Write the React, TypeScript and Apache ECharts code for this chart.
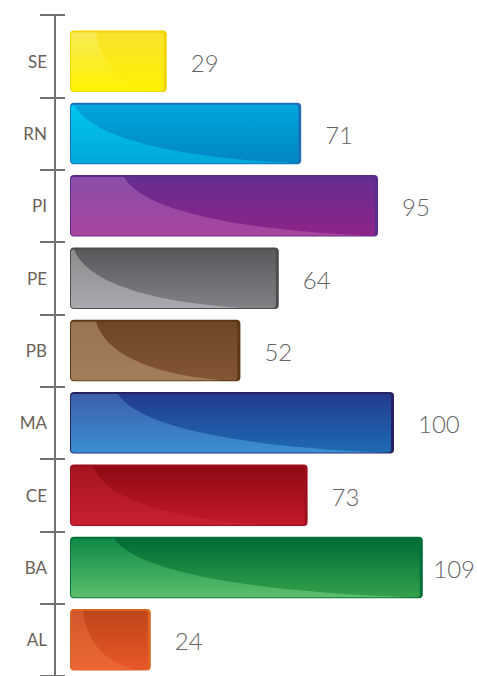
import React, { useEffect, useRef } from "react";
import * as echarts from "echarts";

// Data (top to bottom)
const categories = ["SE", "RN", "PI", "PE", "PB", "MA", "CE", "BA", "AL"];
const values = [29, 71, 95, 64, 52, 100, 73, 109, 24];

// Styles per bar
const edgeColors = ["#f2d500", "#1d70b8", "#5b2c8f", "#4d4d4f", "#5c3815", "#262262", "#9b0d1a", "#00703a", "#d9661f"];
const darkTop = ["#f9e22e", "#00a6de", "#652d91", "#58595b", "#6f4625", "#233b8f", "#8f0a13", "#006b36", "#bf4519"];
const darkBottom = ["#fff100", "#0085c2", "#8f2389", "#808285", "#835634", "#1e6bb3", "#c21a2a", "#35a14b", "#e8572a"];
const lightTop = ["#f8ea55", "#00c6ef", "#8a4fa8", "#8b8c8e", "#9a7450", "#3d5fac", "#a5141f", "#0f8a48", "#d2582c"];
const lightBottom = ["#fff200", "#00a8d8", "#a8449e", "#a7a9ac", "#a27e5b", "#3a8fd0", "#c82031", "#5dbe6b", "#ec6734"];
const glossStart = [25, 0, 53, 0, 25, 47, 22, 43, 12];
const glossEnd = [0.9, 0.98, 0.97, 0.83, 0.9, 0.98, 0.82, 0.97, 0.85];

const CHART_W = 477;

export default function App() {
  const ref = useRef<HTMLDivElement>(null);

  useEffect(() => {
    if (!ref.current) return;
    const chart = echarts.init(ref.current, null, { renderer: "svg" });

    const renderItem = (params: any, api: any) => {
      const i = params.dataIndex;
      const v = api.value(0);
      const cat = api.value(1);
      const end = api.coord([v, cat]);
      const start = api.coord([0, cat]);
      const band = api.size([0, 1])[1];
      const h = band * 0.85;
      const x0 = start[0] - 4;
      const x1 = end[0];
      const y0 = end[1] - h / 2;
      const w = x1 - x0;

      const ix0 = x0 + 1;
      const iy0 = y0 + 2;
      const iw = w - 4;
      const ih = h - 3;
      const iy1 = iy0 + ih;
      const r = 3;

      const xs = Math.max(ix0 + r, ix0 + glossStart[i]);
      const xe = ix0 + iw * glossEnd[i];
      const span = xe - xs;
      const c1x = xs + span * 0.07;
      const c1y = iy0 + ih * 0.5;
      const c2x = xs + span * 0.38;
      const c2y = iy0 + ih * 0.88;
      const pathData =
        `M${xs},${iy0} C${c1x},${c1y} ${c2x},${c2y} ${xe},${iy1} ` +
        `L${ix0 + r},${iy1} Q${ix0},${iy1} ${ix0},${iy1 - r} ` +
        `L${ix0},${iy0 + r} Q${ix0},${iy0} ${ix0 + r},${iy0} Z`;

      const label = String(v);
      const estW = label.length * 14;
      const fits = x1 + 24 + estW <= CHART_W - 3;

      return {
        type: "group",
        children: [
          {
            type: "rect",
            shape: { x: x0, y: y0, width: w, height: h, r: 4 },
            style: { fill: edgeColors[i] },
          },
          {
            type: "rect",
            shape: { x: ix0, y: iy0, width: iw, height: ih, r: r },
            style: {
              fill: new echarts.graphic.LinearGradient(0, 0, 0, 1, [
                { offset: 0, color: darkTop[i] },
                { offset: 1, color: darkBottom[i] },
              ]),
            },
          },
          {
            type: "path",
            shape: { pathData },
            style: {
              fill: new echarts.graphic.LinearGradient(0, 0, 0, 1, [
                { offset: 0, color: lightTop[i] },
                { offset: 1, color: lightBottom[i] },
              ]),
            },
          },
          {
            type: "text",
            style: {
              text: label,
              x: fits ? x1 + 24 : CHART_W - 2,
              y: end[1] + 1,
              verticalAlign: "middle",
              align: fits ? "left" : "right",
              fontSize: 24,
              fontWeight: 300,
              fontFamily: "Lato, sans-serif",
              fill: "#636466",
            },
          },
        ],
      };
    };

    const axisColor = "#707174";

    chart.setOption({
      animation: false,
      backgroundColor: "#ffffff",
      grid: { left: 74, right: 3, top: 25, bottom: -6 },
      xAxis: { type: "value", min: 0, max: 125, show: false },
      yAxis: [
        {
          type: "category",
          data: categories,
          inverse: true,
          position: "left",
          offset: 19,
          axisLine: { show: true, onZero: false, lineStyle: { color: axisColor, width: 2 } },
          axisTick: {
            show: true,
            length: 15,
            interval: (index: number) => index !== 0,
            lineStyle: { color: axisColor, width: 2 },
          },
          axisLabel: {
            margin: 8,
            fontSize: 17,
            fontWeight: "normal",
            fontFamily: "Lato, sans-serif",
            color: "#6b6159",
          },
          splitLine: { show: false },
        },
        {
          type: "category",
          data: categories,
          inverse: true,
          position: "left",
          offset: 19,
          axisLine: { show: false, onZero: false },
          axisTick: {
            show: true,
            inside: true,
            length: 10,
            interval: (index: number) => index !== 0,
            lineStyle: { color: axisColor, width: 2 },
          },
          axisLabel: { show: false },
          splitLine: { show: false },
        },
      ],
      graphic: [
        {
          type: "line",
          shape: { x1: 55, y1: 15, x2: 55, y2: 26 },
          style: { stroke: axisColor, lineWidth: 2 },
        },
        {
          type: "line",
          shape: { x1: 40, y1: 15, x2: 65, y2: 15 },
          style: { stroke: axisColor, lineWidth: 2 },
        },
      ],
      series: [
        {
          type: "custom",
          yAxisIndex: 0,
          renderItem,
          encode: { x: 0, y: 1 },
          data: values.map((v, i) => [v, i]),
        },
      ],
    });

    return () => chart.dispose();
  }, []);

  return (
    <div
      ref={ref}
      style={{ position: "absolute", left: 0, top: 0, width: CHART_W, height: 676 }}
    />
  );
}
